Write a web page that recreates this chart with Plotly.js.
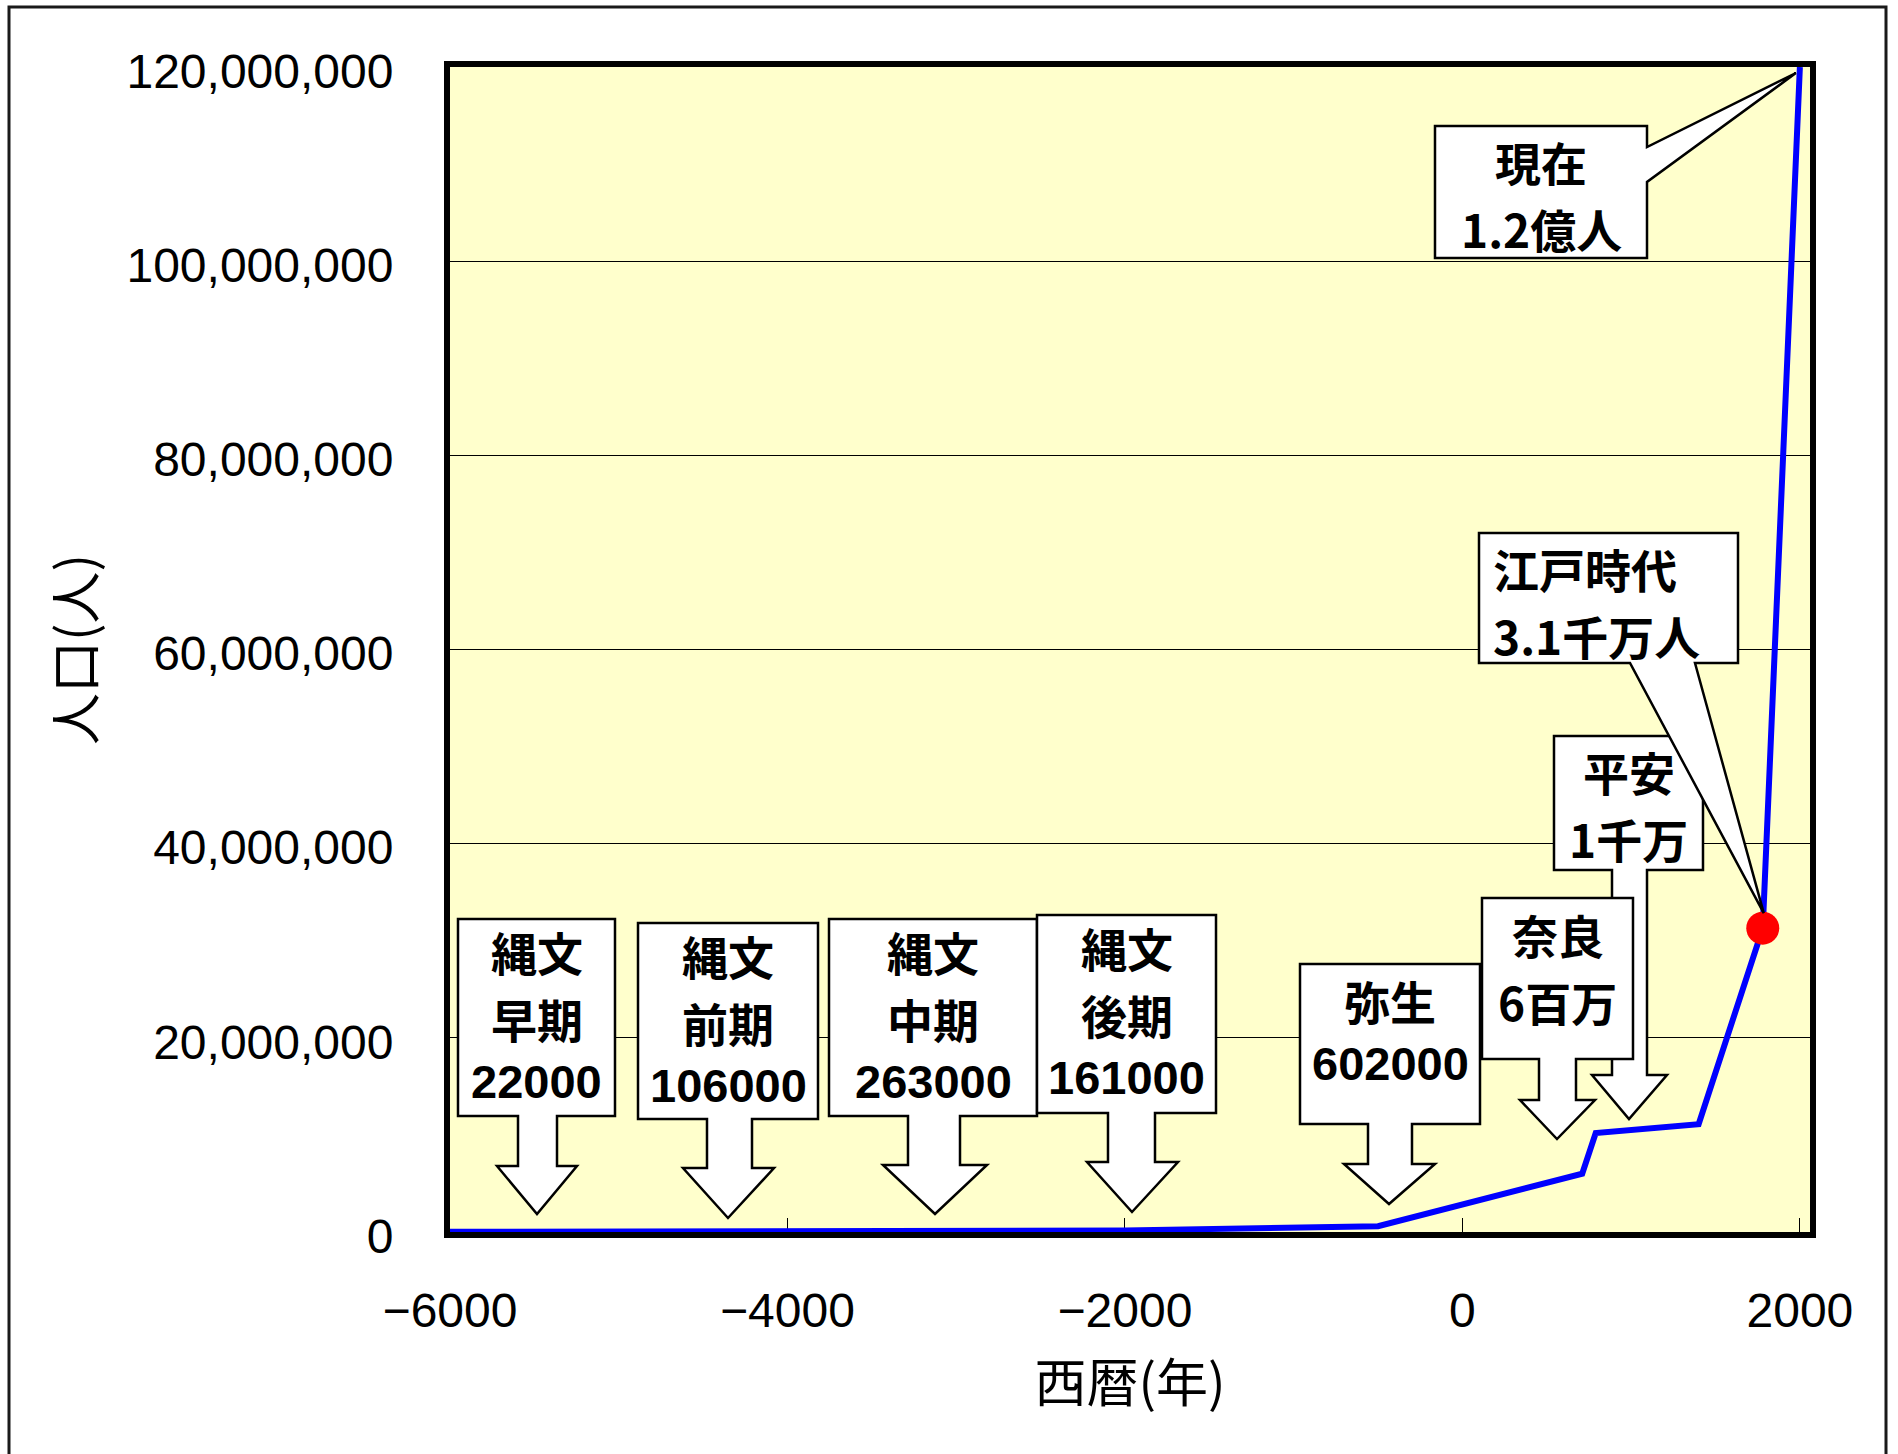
<!DOCTYPE html>
<html>
<head>
<meta charset="utf-8">
<script src="https://cdn.plot.ly/plotly-3.0.1.min.js"></script>
<style>
  html, body { margin: 0; padding: 0; background: #ffffff; }
  #chart { width: 1898px; height: 1454px; }
</style>
</head>
<body>
<div id="chart"></div>
<script>
// ---- data ----
const years = [-6000, -4000, -3000, -2000, -500, 710, 790, 1400, 1780, 2000];
const population = [22000, 106000, 263000, 161000, 602000, 6000000, 10200000, 11100000, 31300000, 120000000];
const highlightIndex = 8; // 江戸時代 point (red dot)

const calloutEras = ['縄文<br>早期', '縄文<br>前期', '縄文<br>中期', '縄文<br>後期', '弥生', '奈良', '平安', '江戸時代', '現在'];
const calloutValues = ['22000', '106000', '263000', '161000', '602000', '6百万', '1千万', '3.1千万人', '1.2億人'];

const xTickVals = [-6000, -4000, -2000, 0, 2000];
const yTickVals = [0, 20000000, 40000000, 60000000, 80000000, 100000000, 120000000];

const xTitle = '西暦(年)';
const yTitle = '人口(人)';

// ---- layout geometry (pixels) ----
const W = 1898, H = 1454;
const L = 450, R = 88, T = 67, B = 222;
const PW = W - L - R, PH = H - T - B, plotBottom = T + PH;
const xRange = [-6000, 2060], yRange = [0, 120000000];

const fx = px => (px - L) / PW;
const fy = py => (plotBottom - py) / PH;
const dx = x => L + (x - xRange[0]) / (xRange[1] - xRange[0]) * PW;
const dy = y => plotBottom - (y - yRange[0]) / (yRange[1] - yRange[0]) * PH;
const pt = (px, py) => fx(px).toFixed(5) + ',' + fy(py).toFixed(5);

// down-arrow callouts (index into calloutEras/Values), pixel geometry; lineY = centre of each text line
const downCallouts = [
  {i: 0, box: [458, 919, 615, 1116], shaft: [518, 557], head: [497, 577], headTop: 1166, tip: [537, 1214], lineY: [951, 1018, 1081]},
  {i: 1, box: [638, 923, 818, 1119], shaft: [707, 752], head: [683, 774], headTop: 1168, tip: [728, 1218], lineY: [955, 1022, 1085]},
  {i: 2, box: [829, 919, 1037, 1116], shaft: [908, 960], head: [883, 987], headTop: 1165, tip: [935, 1214], lineY: [951, 1018, 1081]},
  {i: 3, box: [1037, 915, 1216, 1113], shaft: [1108, 1155], head: [1087, 1178], headTop: 1162, tip: [1132, 1212], lineY: [947, 1014, 1077]},
  {i: 4, box: [1300, 964, 1480, 1124], shaft: [1368, 1412], head: [1344, 1435], headTop: 1164, tip: [1389, 1204], lineY: [1000, 1063]},
  {i: 6, box: [1554, 736, 1703, 870], shaft: [1612, 1647], head: [1592, 1667], headTop: 1075, tip: [1629, 1119], lineY: [771, 838]},
  {i: 5, box: [1482, 898, 1633, 1059], shaft: [1539, 1576], head: [1520, 1595], headTop: 1100, tip: [1557, 1139], lineY: [934, 1001]}
];
const edoCallout = {i: 7, box: [1479, 533, 1738, 663], base: [1630, 1695], tipOffset: [1, -15], textX: 1491, lineY: [568, 635]};
const nowCallout = {i: 8, box: [1435, 126, 1647, 258], base: [147, 182], tipOffset: [-4, 6], lineY: [161, 228]};

const shapes = [];
const annotations = [];
const calloutLine = {color: '#000000', width: 2.5};
const cjkFont = {family: 'Noto Sans CJK JP, Noto Sans, sans-serif', size: 46, color: '#000000', weight: 700};
const digitFont = {family: 'Liberation Sans, Arial, sans-serif', size: 47, color: '#000000', weight: 700};

function addText(i, xPx, lineY, anchor) {
  const lines = calloutEras[i].split('<br>').concat([calloutValues[i]]);
  lines.forEach((s, k) => {
    const digitsOnly = /^[0-9.]+$/.test(s);
    annotations.push({xref: 'paper', yref: 'paper', x: fx(xPx), y: fy(lineY[k]), xanchor: anchor, yanchor: 'middle',
      text: s, showarrow: false, align: anchor === 'left' ? 'left' : 'center', font: digitsOnly ? digitFont : cjkFont});
  });
}

downCallouts.forEach(c => {
  const [x0, y0, x1, y1] = c.box;
  const path = 'M' + pt(x0, y0) + ' L' + pt(x1, y0) + ' L' + pt(x1, y1) +
    ' L' + pt(c.shaft[1], y1) + ' L' + pt(c.shaft[1], c.headTop) + ' L' + pt(c.head[1], c.headTop) +
    ' L' + pt(c.tip[0], c.tip[1]) + ' L' + pt(c.head[0], c.headTop) + ' L' + pt(c.shaft[0], c.headTop) +
    ' L' + pt(c.shaft[0], y1) + ' L' + pt(x0, y1) + ' Z';
  shapes.push({type: 'path', xref: 'paper', yref: 'paper', path: path, fillcolor: '#ffffff', line: calloutLine, layer: 'above'});
  addText(c.i, (x0 + x1) / 2, c.lineY, 'center');
});

// 江戸時代 callout: wedge pointing at the highlighted data point
(function () {
  const c = edoCallout;
  const [x0, y0, x1, y1] = c.box;
  const tx = dx(years[highlightIndex]) + c.tipOffset[0];
  const ty = dy(population[highlightIndex]) + c.tipOffset[1];
  const path = 'M' + pt(x0, y0) + ' L' + pt(x1, y0) + ' L' + pt(x1, y1) + ' L' + pt(c.base[1], y1) +
    ' L' + pt(tx, ty) + ' L' + pt(c.base[0], y1) + ' L' + pt(x0, y1) + ' Z';
  shapes.push({type: 'path', xref: 'paper', yref: 'paper', path: path, fillcolor: '#ffffff', line: calloutLine, layer: 'above'});
  addText(c.i, c.textX, c.lineY, 'left');
})();

// 現在 callout: wedge from right side pointing at the last data point
(function () {
  const c = nowCallout;
  const [x0, y0, x1, y1] = c.box;
  const last = years.length - 1;
  const tx = dx(years[last]) + c.tipOffset[0];
  const ty = dy(population[last]) + c.tipOffset[1];
  const path = 'M' + pt(x0, y0) + ' L' + pt(x1, y0) + ' L' + pt(x1, c.base[0]) + ' L' + pt(tx, ty) +
    ' L' + pt(x1, c.base[1]) + ' L' + pt(x1, y1) + ' L' + pt(x0, y1) + ' Z';
  shapes.push({type: 'path', xref: 'paper', yref: 'paper', path: path, fillcolor: '#ffffff', line: calloutLine, layer: 'above'});
  addText(c.i, (x0 + x1) / 2, c.lineY, 'center');
})();

// outer chart border
shapes.push({type: 'rect', xref: 'paper', yref: 'paper', x0: fx(9), x1: fx(1886), y0: fy(7), y1: fy(1480),
  line: {color: '#1a1a1a', width: 3}, fillcolor: 'rgba(0,0,0,0)', layer: 'above'});

const traces = [
  {type: 'scatter', mode: 'lines', x: years, y: population, cliponaxis: false,
   line: {color: '#0000ff', width: 6}, hoverinfo: 'skip', showlegend: false},
  {type: 'scatter', mode: 'markers', x: [years[highlightIndex]], y: [population[highlightIndex]], cliponaxis: false,
   marker: {color: '#ff0000', size: 33, line: {width: 0}}, hoverinfo: 'skip', showlegend: false}
];

const tickFont = {family: 'Liberation Sans, Arial, sans-serif', size: 48, color: '#000000'};
const titleFont = {family: 'Noto Sans CJK JP, Noto Sans, sans-serif', size: 52, color: '#000000'};

const layout = {
  width: W, height: H,
  margin: {l: L, r: R, t: T, b: B, pad: 0},
  paper_bgcolor: '#ffffff',
  plot_bgcolor: '#ffffcc',
  showlegend: false,
  xaxis: {
    range: xRange, tickvals: xTickVals,
    ticks: 'inside', ticklen: 14, tickwidth: 1, tickcolor: '#000000',
    showgrid: false, zeroline: false,
    showline: true, linecolor: '#000000', linewidth: 6, mirror: true,
    tickfont: tickFont, ticklabelstandoff: 31,
    layer: 'below traces',
    title: {text: xTitle, font: titleFont, standoff: 32}
  },
  yaxis: {
    range: yRange, tickvals: yTickVals, tickformat: ',d',
    ticks: '', showgrid: true, gridcolor: '#000000', gridwidth: 1,
    zeroline: false,
    showline: true, linecolor: '#000000', linewidth: 6, mirror: true,
    tickfont: tickFont, ticklabelstandoff: 41, ticklabelshift: 4,
    layer: 'below traces',
    title: {text: yTitle, font: titleFont, standoff: 16}
  },
  shapes: shapes,
  annotations: annotations
};

Plotly.newPlot('chart', traces, layout, {displayModeBar: false, staticPlot: true});
</script>
</body>
</html>
